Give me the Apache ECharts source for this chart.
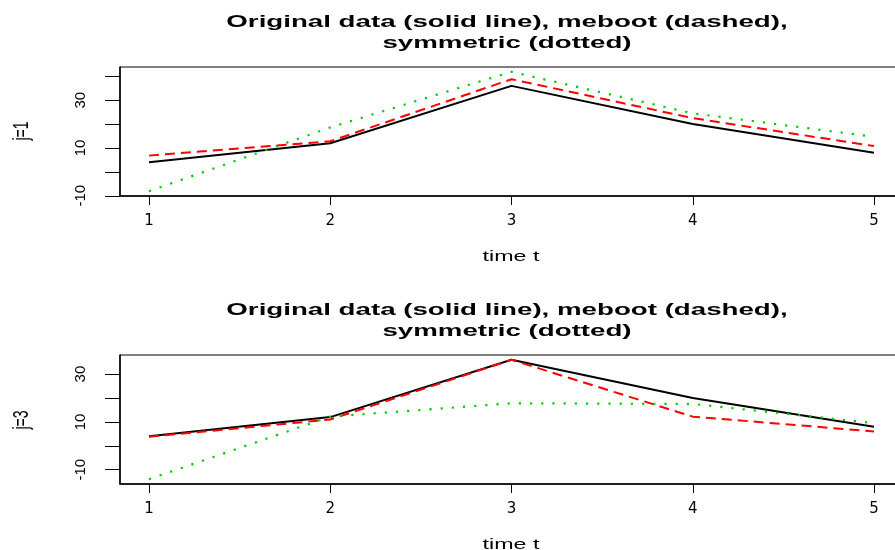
<!DOCTYPE html>
<html>
<head>
<meta charset="utf-8">
<script src="https://cdn.jsdelivr.net/npm/echarts@6/dist/echarts.min.js"></script>
<style>
html,body{margin:0;padding:0;background:#fff;}
#chart{width:895px;height:550px;}
</style>
</head>
<body>
<div id="chart"></div>
<script>
// time points and series for the two panels (j=1, j=3)
var timeT=[1,2,3,4,5];
var original1=[4,12,36,20,8];
var meboot1=[6.8,12.8,38.8,22.5,10.8];
var symmetric1=[-8.1,18.6,41.9,24.5,14.7];
var original3=[4,12,36,20,8];
var meboot3=[3.8,11,36,12.2,6];
var symmetric3=[-14,12.2,17.8,17.5,9.5];
var yTicks1=[-10,0,10,20,30,40];
var yTicks3=[-10,0,10,20,30];
var yLabels=[-10,10,30];
var titleText='Original data (solid line), meboot (dashed),\nsymmetric (dotted)';

function pairs(ys)
{
  return ys.map(function(y,i){return [timeT[i],y];});
}
// R style 4% padding of the axis range
function padMin(v){return v.min-0.04*(v.max-v.min);}
function padMax(v){return v.max+0.04*(v.max-v.min);}

function xAxisFor(idx)
{
  return {
    type:'value',gridIndex:idx,min:padMin,max:padMax,
    splitLine:{show:false},
    axisLine:{show:true,onZero:false,lineStyle:{color:'#000',width:1.5}},
    axisTick:{show:true,length:9,customValues:timeT,lineStyle:{color:'#000',width:1}},
    axisLabel:{customValues:timeT,margin:18,fontSize:15,fontFamily:'DejaVu Sans',color:'#000'}
  };
}
function yAxisFor(idx,ticks)
{
  return {
    type:'value',gridIndex:idx,min:padMin,max:padMax,
    splitLine:{show:false},
    axisLine:{show:true,onZero:false,lineStyle:{color:'#000',width:1.5}},
    axisTick:{show:true,length:15,customValues:ticks,lineStyle:{color:'#000',width:1}},
    axisLabel:{customValues:yLabels,rotate:90,margin:32,fontSize:15,fontFamily:'Liberation Sans',color:'#000'}
  };
}
function lines(idx,orig,mb,sym)
{
  return [
    {type:'line',xAxisIndex:idx,yAxisIndex:idx,data:pairs(orig),symbol:'none',
      lineStyle:{color:'#000',width:2}},
    {type:'line',xAxisIndex:idx,yAxisIndex:idx,data:pairs(mb),symbol:'none',
      lineStyle:{color:'#ff0000',width:2,type:[10,6]}},
    {type:'line',xAxisIndex:idx,yAxisIndex:idx,data:pairs(sym),symbol:'none',
      lineStyle:{color:'#00cd00',width:2.2,type:[2.2,9]}}
  ];
}
// stretched text, the picture is wider than the original R device
function label(txt,x,y,size,bold,sx,sy,rot)
{
  return {type:'text',x:x,y:y,scaleX:sx,scaleY:sy,rotation:rot||0,
    style:{text:txt,fontSize:size,fontWeight:bold?'bold':'normal',fontFamily:'Liberation Sans',
      fill:'#000',align:'center',verticalAlign:'middle',lineHeight:21}};
}

var chart=echarts.init(document.getElementById('chart'),null,{renderer:'canvas'});
chart.setOption({
  animation:false,
  backgroundColor:'#fff',
  grid:[
    {left:120,top:67,width:783,height:129,outerBoundsMode:'none',show:true,borderColor:'#000',borderWidth:1},
    {left:120,top:355,width:783,height:129,outerBoundsMode:'none',show:true,borderColor:'#000',borderWidth:1}
  ],
  xAxis:[xAxisFor(0),xAxisFor(1)],
  yAxis:[yAxisFor(0,yTicks1),yAxisFor(1,yTicks3)],
  series:lines(0,original1,meboot1,symmetric1).concat(lines(1,original3,meboot3,symmetric3)),
  graphic:[
    label(titleText,507,33,16,true,1.73,1),
    label(titleText,507,321,16,true,1.73,1),
    label('time t',511,257,15,false,1.55,1),
    label('time t',511,545,15,false,1.55,1),
    label('j=1',22,131,14,false,1,1.55,Math.PI/2),
    label('j=3',22,420,14,false,1,1.55,Math.PI/2)
  ]
});
</script>
</body>
</html>
